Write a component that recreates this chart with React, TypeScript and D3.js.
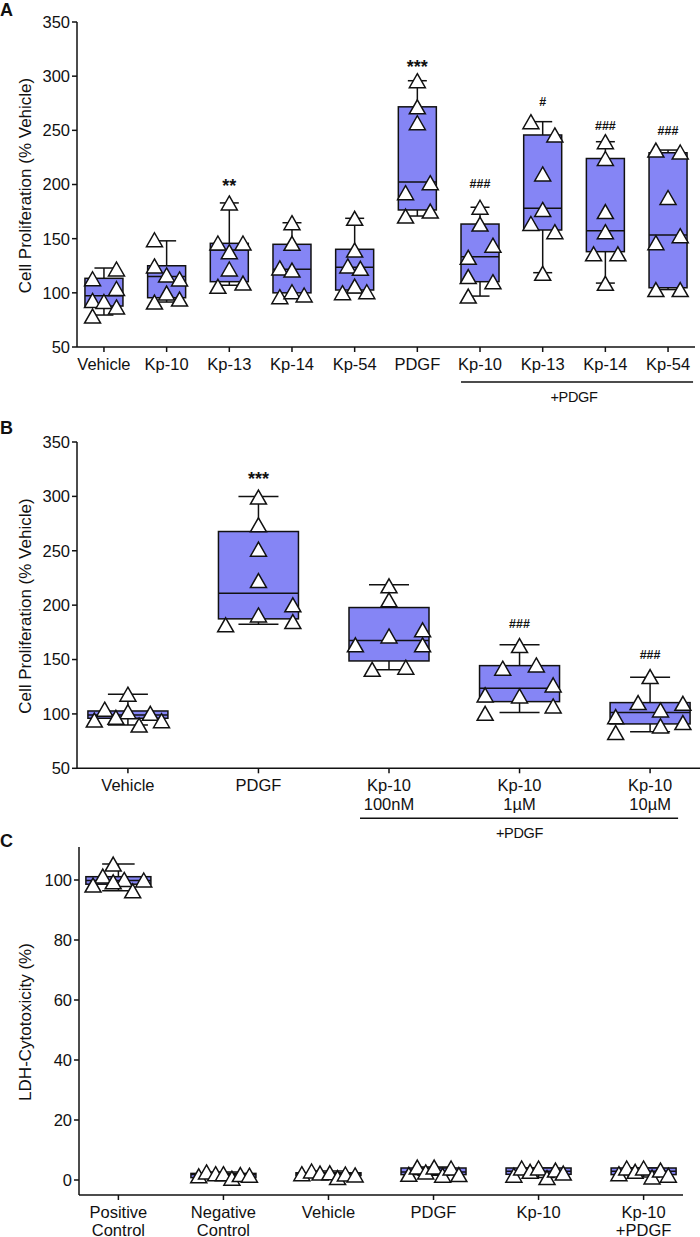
import React from "react";
import * as d3 from "d3";

const FONT = '"Liberation Sans", Arial, Helvetica, sans-serif';
const FILL = "#8585f5";
const INK = "#111";

// ---------------- Panel A ----------------
const catsA = [["Vehicle"], ["Kp-10"], ["Kp-13"], ["Kp-14"], ["Kp-54"], ["PDGF"], ["Kp-10"], ["Kp-13"], ["Kp-14"], ["Kp-54"]];
const ticksA = [50, 100, 150, 200, 250, 300, 350];
// [q1, median, q3, min, max]
const boxA = [
  [87.8, 97.4, 113.4, 79.5, 122.9],
  [95.5, 115, 125, 91.5, 148],
  [110.3, 139.5, 145.7, 107, 183],
  [100, 121.7, 144.8, 96.4, 164.7],
  [102.6, 123.6, 140.2, 100.1, 168.8],
  [176.5, 202.3, 271.7, 170.9, 295.8],
  [110.3, 133.4, 163.5, 97, 179],
  [158, 178, 245.7, 118.6, 258],
  [138, 157.4, 224, 109, 239.5],
  [104.7, 153.4, 229.3, 103, 231.8],
];
const ptsA = [
  [113, 122, 93, 92, 104, 87, 78.6],
  [149, 124.8, 116.5, 112.8, 99.8, 91.5, 94.3],
  [183, 146, 146, 138, 122, 106, 109],
  [164.7, 145.7, 123, 121, 96.4, 101, 98],
  [168.8, 139.5, 124.8, 122.6, 106.3, 100.1, 101],
  [295.8, 271.7, 257, 201.7, 192.4, 170.9, 175.5],
  [179, 163.5, 144, 132.8, 115, 110.3, 97],
  [258, 245.7, 209.7, 177, 164, 156.4, 118],
  [239.5, 224, 175, 156.4, 136, 136, 108.8],
  [231.8, 230, 188, 152.7, 146.3, 103, 103],
];
// horizontal jitter, as a fraction of the box width
const jitA = [
  [-0.3, 0.33, -0.3, 0, 0.33, 0.33, -0.3],
  [-0.32, -0.32, 0, 0.34, 0, -0.32, 0.34],
  [0, -0.3, 0.36, 0, 0, -0.3, 0.36],
  [0, 0, -0.32, 0, -0.32, 0, 0.32],
  [0, 0, -0.18, 0.15, 0, -0.32, 0.32],
  [0, 0, 0, 0.34, -0.31, -0.31, 0.34],
  [0, 0, 0.34, -0.31, -0.31, 0.34, -0.31],
  [-0.31, 0.32, 0, 0, -0.31, 0.32, 0],
  [0, 0, 0, 0, -0.31, 0.33, 0],
  [-0.32, 0.32, 0, 0.32, -0.32, -0.32, 0.32],
];
const annIdxA = [2, 5, 6, 7, 8, 9];
const annTextA = ["**", "***", "###", "#", "###", "###"];
const annValA = [202.6, 312.4, 200.5, 276.4, 254.3, 250.3];

// ---------------- Panel B ----------------
const catsB = [["Vehicle"], ["PDGF"], ["Kp-10", "100nM"], ["Kp-10", "1\u00B5M"], ["Kp-10", "10\u00B5M"]];
const ticksB = [50, 100, 150, 200, 250, 300, 350];
const boxB = [
  [96, 99, 102.7, 89.8, 118.1],
  [187.4, 211, 267.7, 182.5, 300],
  [148.7, 167.4, 197.8, 140.5, 218.7],
  [111.3, 123.6, 144.4, 101.2, 163.5],
  [90.8, 101.2, 110.4, 83.7, 133.7],
];
const ptsB = [
  [118.1, 104.3, 102.1, 100.6, 94.4, 96.9, 89.8, 93.8],
  [299.4, 273.9, 251.5, 222.6, 191, 200.3, 184.9, 181.9],
  [217.8, 204.9, 163.5, 171.7, 177.3, 163.5, 141, 143],
  [162.8, 142, 145, 126.7, 117.5, 116.5, 107.3, 100.6],
  [134.3, 110.4, 103.7, 109.8, 97.5, 89, 92, 82.8],
];
const jitB = [
  [0, -0.29, 0, 0.28, -0.42, -0.15, 0.14, 0.42],
  [0, 0, 0, 0, 0, 0.43, 0.43, -0.41],
  [0, 0, -0.42, 0, 0.42, 0.42, -0.21, 0.21],
  [0, -0.21, 0.21, 0.42, -0.43, 0, 0.42, -0.43],
  [0, -0.15, 0.13, 0.41, -0.43, 0.13, 0.41, -0.43],
];
const annIdxB = [1, 3, 4];
const annTextB = ["***", "###", "###"];
const annValB = [319.9, 183.4, 154.3];

// ---------------- Panel C ----------------
const catsC = [["Positive", "Control"], ["Negative", "Control"], ["Vehicle"], ["PDGF"], ["Kp-10"], ["Kp-10", "+PDGF"]];
const ticksC = [0, 20, 40, 60, 80, 100];
const boxC = [
  [98.6, 99.8, 101.1, 96.4, 105.3],
  [0.8, 1.8, 2.2, 0.4, 2.7],
  [1.5, 2.1, 2.4, 0.8, 3.0],
  [1.8, 2.7, 4.0, 1.6, 4.3],
  [1.9, 2.9, 4.0, 0.8, 4.0],
  [1.8, 2.9, 4.0, 1.0, 4.0],
];
const ptsC = [
  [105.3, 101.3, 100.2, 100, 99.4, 98.3, 96.4],
  [1.4, 2.7, 2.1, 2.1, 0.6, 1.8, 1.6],
  [2.1, 3.0, 2.3, 2.4, 0.8, 2.0, 1.7],
  [1.9, 4.3, 2.7, 4.3, 1.6, 4.0, 1.8],
  [1.6, 4.0, 2.9, 4.0, 0.8, 3.3, 2.3],
  [2.1, 4.0, 2.9, 4.0, 1.0, 3.3, 1.6],
];
const jitC = [
  [-0.08, -0.24, 0.09, 0.39, -0.08, -0.39, 0.22],
  [-0.38, -0.26, -0.12, 0, 0.13, 0.26, 0.4],
  [-0.41, -0.26, -0.13, 0.02, 0.14, 0.26, 0.41],
  [-0.38, -0.25, -0.12, 0.01, 0.14, 0.27, 0.39],
  [-0.38, -0.26, -0.13, 0, 0.13, 0.26, 0.38],
  [-0.38, -0.26, -0.13, 0, 0.13, 0.26, 0.38],
];

type PanelProps = {
  letter: string;
  letterY: number;
  yDomain: [number, number];
  yRange: [number, number];
  xRange: [number, number];
  padding: number;
  yTicks: number[];
  cats: string[][];
  lineGap: number;
  boxes: number[][];
  pts: number[][];
  jit: number[][];
  boxW: number;
  annIdx: number[];
  annText: string[];
  annVal: number[];
  bracket?: { from: number; to: number; left: number; right: number; y: number };
  title: string;
};

const tri = "M0,-7L8,7L-8,7Z";

function Panel(p: PanelProps) {
  const y = d3.scaleLinear().domain(p.yDomain).range(p.yRange);
  const idx = p.cats.map((_, i) => String(i));
  const x = d3.scalePoint<string>().domain(idx).range(p.xRange).padding(p.padding);
  const x0 = p.xRange[0];
  const yb = p.yRange[0];
  const yt = p.yRange[1];
  const hw = p.boxW / 2;
  const cw = p.boxW / 4;
  const tickStyle = { fontSize: "16.5px" };
  return (
    <g fontFamily={FONT}>
      <text x={0} y={p.letterY} style={{ fontSize: "18px", fontWeight: "bold" }} fill={INK}>{p.letter}</text>
      <text
        transform={`translate(31,${(yb + yt) / 2 + 1}) rotate(-90)`}
        textAnchor="middle"
        style={{ fontSize: "17px" }}
        fill={INK}
      >
        {p.title}
      </text>
      {/* y axis */}
      <line x1={x0} x2={x0} y1={yt} y2={yb} stroke={INK} strokeWidth={1.5} />
      {p.yTicks.map((t) => (
        <g key={t}>
          <line x1={x0 - 5} x2={x0} y1={y(t)} y2={y(t)} stroke={INK} strokeWidth={1.5} />
          <text x={x0 - 7} y={y(t) + 5.9} textAnchor="end" style={tickStyle} fill={INK}>{t}</text>
        </g>
      ))}
      {/* x axis */}
      <line x1={x0} x2={p.xRange[1]} y1={yb} y2={yb} stroke={INK} strokeWidth={1.5} />
      {p.cats.map((lines, i) => {
        const cx = x(String(i))!;
        return (
          <g key={i}>
            <line x1={cx} x2={cx} y1={yb} y2={yb + 5} stroke={INK} strokeWidth={1.5} />
            {lines.map((l, k) => (
              <text key={k} x={cx} y={yb + 23 + k * p.lineGap} textAnchor="middle" style={tickStyle} fill={INK}>{l}</text>
            ))}
          </g>
        );
      })}
      {/* boxes */}
      {p.boxes.map((b, i) => {
        const cx = x(String(i))!;
        const [q1, med, q3, mn, mx] = b;
        return (
          <g key={i} stroke={INK} strokeWidth={1.5}>
            <line x1={cx} x2={cx} y1={y(q3)} y2={y(mx)} />
            <line x1={cx - cw} x2={cx + cw} y1={y(mx)} y2={y(mx)} />
            <line x1={cx} x2={cx} y1={y(q1)} y2={y(mn)} />
            <line x1={cx - cw} x2={cx + cw} y1={y(mn)} y2={y(mn)} />
            <rect x={cx - hw} y={y(q3)} width={p.boxW} height={Math.max(0.5, y(q1) - y(q3))} fill={FILL} />
            <line x1={cx - hw} x2={cx + hw} y1={y(med)} y2={y(med)} />
          </g>
        );
      })}
      {/* points */}
      {p.pts.map((arr, i) => {
        const cx = x(String(i))!;
        return (
          <g key={i}>
            {arr.map((v, k) => (
              <path
                key={k}
                d={tri}
                transform={`translate(${cx + p.jit[i][k] * p.boxW},${y(v)})`}
                fill="#fff"
                stroke={INK}
                strokeWidth={1.5}
                strokeLinejoin="miter"
              />
            ))}
          </g>
        );
      })}
      {/* annotations */}
      {p.annIdx.map((ci, k) => {
        const cx = x(String(ci))!;
        const star = p.annText[k].startsWith("*");
        return (
          <text
            key={k}
            x={cx}
            y={y(p.annVal[k]) + (star ? 10.3 : 4.5)}
            textAnchor="middle"
            style={{ fontSize: star ? "18px" : "12.5px", fontWeight: "bold" }}
            fill={INK}
          >
            {p.annText[k]}
          </text>
        );
      })}
      {p.bracket && (
        <g>
          <line
            x1={x(String(p.bracket.from))! - p.bracket.left}
            x2={x(String(p.bracket.to))! + p.bracket.right}
            y1={p.bracket.y}
            y2={p.bracket.y}
            stroke={INK}
            strokeWidth={1.5}
          />
          <text
            x={(x(String(p.bracket.from))! + x(String(p.bracket.to))!) / 2}
            y={p.bracket.y + 20}
            textAnchor="middle"
            style={{ fontSize: "14.5px", letterSpacing: "-0.3px" }}
            fill={INK}
          >
            +PDGF
          </text>
        </g>
      )}
    </g>
  );
}

export default function App() {
  return (
    <svg
      width={700}
      height={1237}
      style={{ position: "absolute", left: 0, top: 0, background: "#fff" }}
    >
      <rect width={700} height={1237} fill="#fff" />
      <Panel
        letter="A"
        letterY={16}
        yDomain={[50, 350]}
        yRange={[347, 22]}
        xRange={[77, 695]}
        padding={0.43}
        yTicks={ticksA}
        cats={catsA}
        lineGap={19}
        boxes={boxA}
        pts={ptsA}
        jit={jitA}
        boxW={38}
        annIdx={annIdxA}
        annText={annTextA}
        annVal={annValA}
        bracket={{ from: 6, to: 9, left: 19, right: 25, y: 382 }}
        title="Cell Proliferation (% Vehicle)"
      />
      <Panel
        letter="B"
        letterY={434}
        yDomain={[50, 350]}
        yRange={[768.3, 442]}
        xRange={[77, 701]}
        padding={0.39}
        yTicks={ticksB}
        cats={catsB}
        lineGap={19}
        boxes={boxB}
        pts={ptsB}
        jit={jitB}
        boxW={80}
        annIdx={annIdxB}
        annText={annTextB}
        annVal={annValB}
        bracket={{ from: 2, to: 4, left: 29, right: 28, y: 818.3 }}
        title="Cell Proliferation (% Vehicle)"
      />
      <Panel
        letter="C"
        letterY={847}
        yDomain={[-5, 111]}
        yRange={[1195, 847]}
        xRange={[79, 683]}
        padding={0.375}
        yTicks={ticksC}
        cats={catsC}
        lineGap={17.5}
        boxes={boxC}
        pts={ptsC}
        jit={jitC}
        boxW={65}
        annIdx={[]}
        annText={[]}
        annVal={[]}
        title="LDH-Cytotoxicity (%)"
      />
    </svg>
  );
}
